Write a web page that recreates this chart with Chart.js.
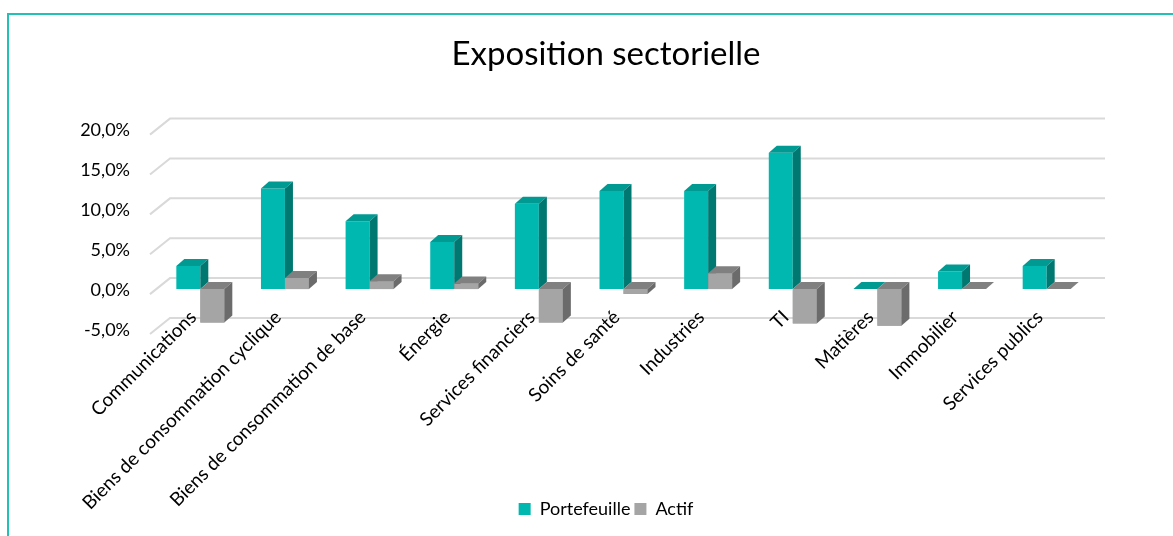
<!DOCTYPE html>
<html>
<head>
<meta charset="utf-8">
<script src="https://cdn.jsdelivr.net/npm/chart.js@4.4.1/dist/chart.umd.min.js"></script>
<style>
  body { margin: 0; background: #fff; }
  #frame { position: absolute; left: 7px; top: 13px; width: 2000px; height: 2000px;
           border-left: 2px solid #22c0b8; border-top: 2px solid #22c0b8; }
  #myChart { position: absolute; left: 0; top: 0; }
</style>
</head>
<body>
<div id="frame"></div>
<canvas id="myChart" width="1173" height="536"></canvas>
<script>
const categories = [
    'Communications',
    'Biens de consommation cyclique',
    'Biens de consommation de base',
    'Énergie',
    'Services financiers',
    'Soins de santé',
    'Industries',
    'TI',
    'Matières',
    'Immobilier',
    'Services publics'
];
const portefeuille = [2.9, 12.6, 8.5, 5.9, 10.7, 12.3, 12.3, 17.1, 0.0, 2.2, 2.9];
const actif = [-4.2, 1.4, 1.0, 0.7, -4.2, -0.6, 2.0, -4.3, -4.6, 0.0, 0.0];
const yMin = -5;
const yMax = 20;
const yStep = 5;

// face colours for the fake 3d look: front, top, side
const shades = [
    { front: '#00b8b0', top: '#009a93', side: '#007872' },
    { front: '#a5a5a5', top: '#808080', side: '#6b6b6b' }
];
const depth = { dx: 8, dy: -7 };
const wall = { dx: 12, dy: -11, front: -8, right: 16 };

const fmtPct = v => v.toFixed(1).replace('.', ',') + '%';

// back wall gridlines with the little side-wall diagonal
const wallGrid = {
    id: 'wallGrid',
    beforeDatasetsDraw(chart) {
        const ctx = chart.ctx;
        const y = chart.scales.y;
        const area = chart.chartArea;
        ctx.save();
        ctx.strokeStyle = '#d9d9d9';
        ctx.lineWidth = 2;
        y.ticks.forEach(t => {
            const py = y.getPixelForValue(t.value);
            ctx.beginPath();
            ctx.moveTo(area.left + wall.front, py + wall.dy + 16);
            ctx.lineTo(area.left + wall.dx, py + wall.dy);
            ctx.lineTo(area.right + wall.right, py + wall.dy);
            ctx.stroke();
        });
        ctx.restore();
    }
};

// top and side faces of each bar
const bars3d = {
    id: 'bars3d',
    afterDatasetsDraw(chart) {
        const ctx = chart.ctx;
        ctx.save();
        chart.data.datasets.forEach((ds, di) => {
            const meta = chart.getDatasetMeta(di);
            const c = shades[di];
            meta.data.forEach(bar => {
                if (di > 0) bar.draw(ctx); // front face again, over the previous series' sides
                const p = bar.getProps(['x', 'y', 'base', 'width'], true);
                const l = p.x - p.width / 2, r = p.x + p.width / 2;
                const top = Math.min(p.y, p.base), bottom = Math.max(p.y, p.base);
                ctx.fillStyle = c.top;
                ctx.beginPath();
                ctx.moveTo(l, top);
                ctx.lineTo(l + depth.dx, top + depth.dy);
                ctx.lineTo(r + depth.dx, top + depth.dy);
                ctx.lineTo(r, top);
                ctx.closePath();
                ctx.fill();
                ctx.fillStyle = c.side;
                ctx.beginPath();
                ctx.moveTo(r, top);
                ctx.lineTo(r + depth.dx, top + depth.dy);
                ctx.lineTo(r + depth.dx, bottom + depth.dy);
                ctx.lineTo(r, bottom);
                ctx.closePath();
                ctx.fill();
            });
        });
        ctx.restore();
    }
};

// tick labels drawn by hand so they are not clipped to the axis boxes
const axisLabels = {
    id: 'axisLabels',
    afterDraw(chart) {
        const ctx = chart.ctx;
        const x = chart.scales.x, y = chart.scales.y;
        const area = chart.chartArea;
        ctx.save();
        ctx.fillStyle = '#000';
        ctx.textAlign = 'right';
        ctx.textBaseline = 'middle';
        ctx.font = '18px Lato';
        y.ticks.forEach(t => {
            ctx.fillText(fmtPct(t.value), area.left - 28, y.getPixelForValue(t.value) + 1);
        });
        ctx.font = '19px Lato';
        x.getLabels().forEach((lab, i) => {
            ctx.save();
            ctx.translate(x.getPixelForValue(i) - 7, area.bottom - 15);
            ctx.rotate(-Math.PI / 4);
            ctx.fillText(lab, 0, 0);
            ctx.restore();
        });
        ctx.restore();
    }
};

let ctx = document.getElementById('myChart').getContext('2d');

new Chart(ctx, {
    type: 'bar',
    data: {
        labels: categories,
        datasets: [{
            label: 'Portefeuille',
            data: portefeuille,
            backgroundColor: shades[0].front,
            borderWidth: 0
        }, {
            label: 'Actif',
            data: actif,
            backgroundColor: shades[1].front,
            borderWidth: 0
        }]
    },
    options: {
        responsive: false,
        animation: false,
        layout: { padding: { left: 123, right: 84, top: 0, bottom: 8 } },
        datasets: {
            bar: { barPercentage: 1, categoryPercentage: 0.567 }
        },
        scales: {
            x: {
                grid: { display: false },
                border: { display: false },
                ticks: { display: false, autoSkip: false },
                afterFit: s => { s.height = 167; }
            },
            y: {
                min: yMin,
                max: yMax,
                grid: { display: false, drawTicks: false },
                border: { display: false },
                ticks: { display: false, stepSize: yStep },
                afterFit: s => { s.width = 35; }
            }
        },
        plugins: {
            title: {
                display: true,
                text: 'Exposition sectorielle',
                color: '#000',
                font: { family: 'Lato', size: 33, weight: 'normal' },
                padding: { top: 35, bottom: 55 }
            },
            legend: {
                position: 'bottom',
                labels: {
                    boxWidth: 12,
                    boxHeight: 12,
                    padding: 4,
                    color: '#000',
                    font: { family: 'Lato', size: 18 }
                }
            },
            tooltip: { enabled: false }
        }
    },
    plugins: [wallGrid, bars3d, axisLabels]
});
</script>
</body>
</html>
